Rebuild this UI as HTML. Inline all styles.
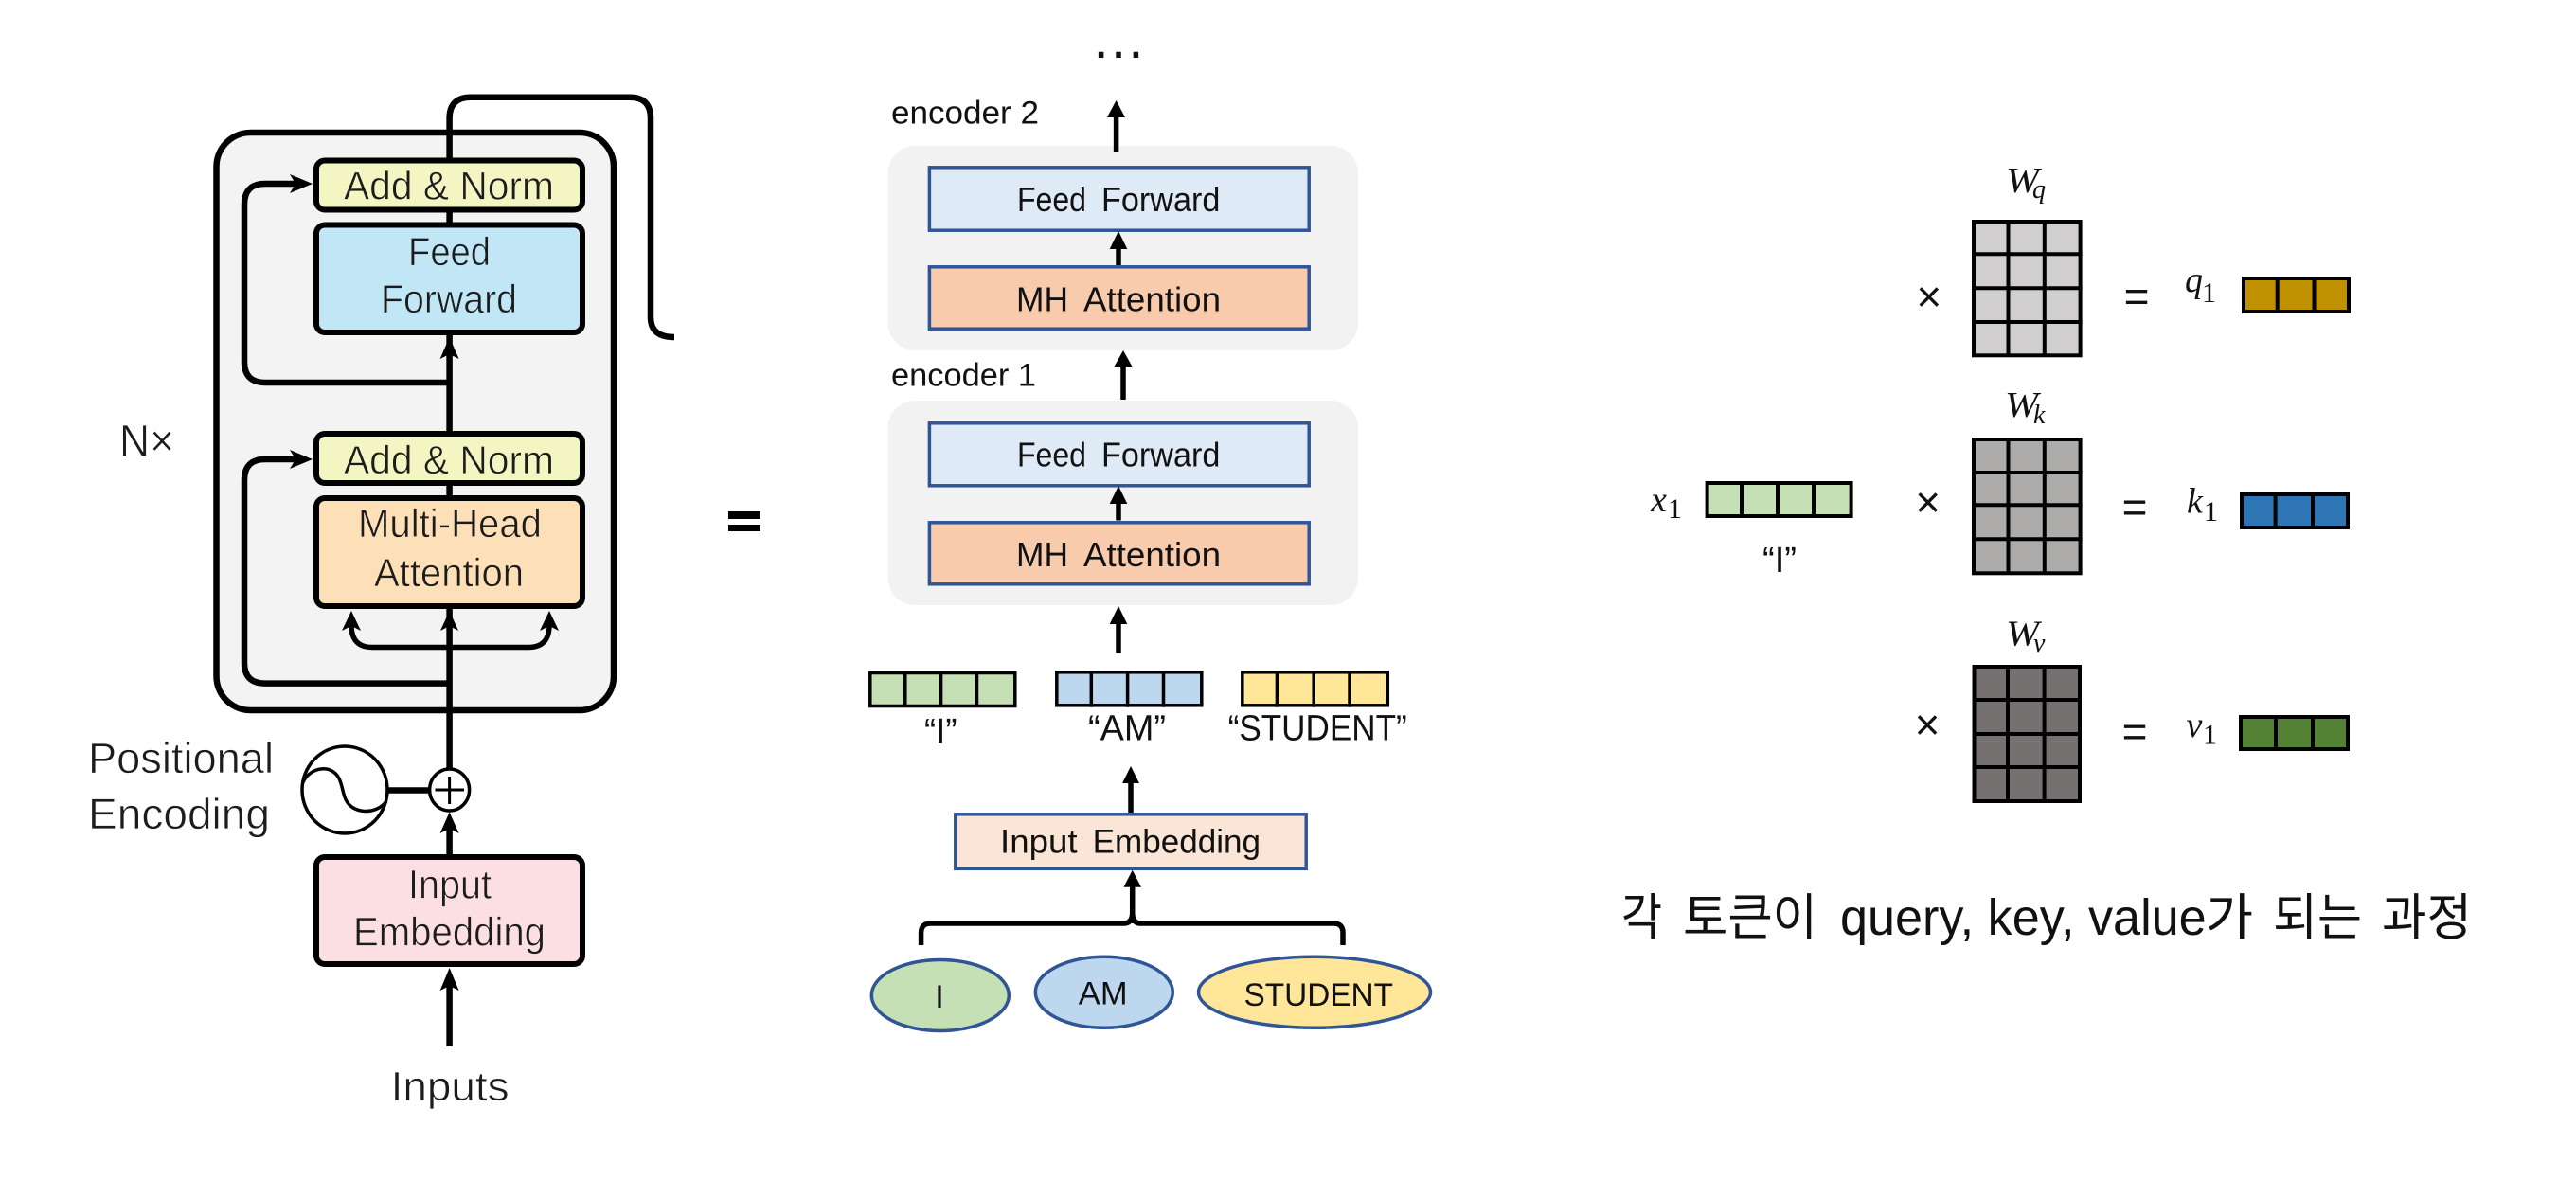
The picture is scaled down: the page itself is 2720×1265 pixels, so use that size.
<!DOCTYPE html>
<html><head><meta charset="utf-8"><style>
html,body{margin:0;padding:0;background:#fff}
svg{display:block}
text{font-family:"Liberation Sans","Noto Sans CJK KR",sans-serif;fill:#111}
.l{fill:#1c1c1c;stroke-width:.7}
.m{font-family:"Liberation Serif",serif;font-style:italic}
.u{font-style:normal}
.n{fill:none;stroke:#000;stroke-width:6.5}
.c{stroke:#000;stroke-width:3.5;fill:none}
.g{stroke:#000;stroke-width:4;fill:none}
.f{stroke:#2F5597;stroke-width:3.5}
</style></head><body>
<svg xmlns="http://www.w3.org/2000/svg" width="2720" height="1265" viewBox="0 0 2720 1265">
<rect width="2720" height="1265" fill="#fff"/>

<!-- LEFT -->
<rect x="228.5" y="140" width="419.5" height="610" rx="36" fill="#F3F3F3" stroke="#000" stroke-width="6.5"/>
<path class="n" d="M474.6 812V125Q474.6 102.7 497 102.7H665Q687 102.7 687 125V335Q687 356 712 356"/>
<path class="n" d="M474.6 404H280Q258 404 258 382V216Q258 194 280 194H312"/>
<path class="n" d="M474.6 721.6H280Q258 721.6 258 700V507Q258 485 280 485H312"/>
<path class="n" style="stroke-width:5.5" d="M371 660Q371 683.5 393 683.5H558Q580 683.5 580 660"/>
<polygon points="330,194 306,184 312,194 306,204"/>
<polygon points="330,485 306,475 312,485 306,495"/>
<rect x="334" y="169.5" width="281" height="52" rx="9" fill="#F3F5C3" stroke="#000" stroke-width="6"/>
<rect x="334" y="237.5" width="281" height="113.5" rx="9" fill="#C1E7F7" stroke="#000" stroke-width="6"/>
<rect x="334" y="458" width="281" height="52" rx="9" fill="#F3F5C3" stroke="#000" stroke-width="6"/>
<rect x="334" y="526" width="281" height="114" rx="9" fill="#FEE0B8" stroke="#000" stroke-width="6"/>
<rect x="334" y="905" width="281" height="113" rx="9" fill="#FCDFE2" stroke="#000" stroke-width="6"/>
<polygon points="474.6,356 464.6,379 474.6,374 484.6,379"/>
<polygon points="474.6,645 465,666 474.6,661 484,666"/>
<polygon points="371,645 361,666 371,661 381,666"/>
<polygon points="580,645 570,666 580,661 590,666"/>
<text class="l" stroke="#F3F5C3" x="363" y="210.6" font-size="42" textLength="222" lengthAdjust="spacingAndGlyphs">Add &amp; Norm</text>
<text class="l" stroke="#C1E7F7" x="431" y="280" font-size="42" textLength="87" lengthAdjust="spacingAndGlyphs">Feed</text>
<text class="l" stroke="#C1E7F7" x="402" y="330" font-size="42" textLength="144" lengthAdjust="spacingAndGlyphs">Forward</text>
<text class="l" stroke="#F3F5C3" x="363" y="500" font-size="42" textLength="222" lengthAdjust="spacingAndGlyphs">Add &amp; Norm</text>
<text class="l" stroke="#FEE0B8" x="378" y="567" font-size="42" textLength="194" lengthAdjust="spacingAndGlyphs">Multi-Head</text>
<text class="l" stroke="#FEE0B8" x="395" y="619" font-size="42" textLength="158" lengthAdjust="spacingAndGlyphs">Attention</text>
<text class="l" stroke="#fff" x="126" y="481.5" font-size="47" textLength="58" lengthAdjust="spacingAndGlyphs">N×</text>
<text class="l" stroke="#fff" x="93" y="816" font-size="45" textLength="196" lengthAdjust="spacingAndGlyphs">Positional</text>
<text class="l" stroke="#fff" x="93" y="875" font-size="45" textLength="192" lengthAdjust="spacingAndGlyphs">Encoding</text>
<text class="l" stroke="#FCDFE2" x="431" y="948.6" font-size="43" textLength="88" lengthAdjust="spacingAndGlyphs">Input</text>
<text class="l" stroke="#FCDFE2" x="373" y="998.6" font-size="43" textLength="203" lengthAdjust="spacingAndGlyphs">Embedding</text>
<text class="l" stroke="#fff" x="412.6" y="1162" font-size="44" textLength="125" lengthAdjust="spacingAndGlyphs">Inputs</text>
<ellipse cx="364" cy="834" rx="45" ry="46" fill="#fff" stroke="#000" stroke-width="3.5"/>
<path d="M320 826C327 810 350 806 358 822C362 830 362 840 366 846C374 860 398 860 408 846" fill="none" stroke="#000" stroke-width="3.5"/>
<line x1="410" y1="834.5" x2="453" y2="834.5" stroke="#000" stroke-width="6.5"/>
<ellipse cx="474.6" cy="834" rx="21" ry="22" fill="#fff" stroke="#000" stroke-width="3.5"/>
<path d="M459.5 834H490M474.6 820V849" stroke="#000" stroke-width="3" fill="none"/>
<path class="n" d="M474.6 902V875M474.6 1105V1040"/>
<polygon points="474.6,857.5 464.6,880 474.6,875 484.6,880"/>
<polygon points="474.6,1022 464.6,1046 474.6,1041 484.6,1046"/>

<!-- equals -->
<rect x="769" y="540" width="34" height="8"/>
<rect x="769" y="554" width="34" height="7"/>

<!-- MIDDLE -->
<text x="1181" y="61" font-size="58" text-anchor="middle">…</text>
<text x="941" y="130.7" font-size="34" textLength="156" lengthAdjust="spacingAndGlyphs">encoder 2</text>
<text x="941" y="407.6" font-size="34" textLength="153" lengthAdjust="spacingAndGlyphs">encoder 1</text>
<rect x="937.5" y="154" width="496.5" height="216" rx="29" fill="#F2F2F2"/>
<rect x="937.5" y="423" width="496.5" height="216" rx="29" fill="#F2F2F2"/>
<rect class="f" x="981.4" y="176.8" width="400.8" height="66.4" fill="#DEEBF7"/>
<rect class="f" x="981.4" y="281.8" width="400.8" height="65.4" fill="#F8CBAD"/>
<rect class="f" x="981.4" y="446.8" width="400.8" height="66" fill="#DEEBF7"/>
<rect class="f" x="981.4" y="551.8" width="400.8" height="65" fill="#F8CBAD"/>
<text y="223" font-size="36"><tspan x="1074" textLength="73" lengthAdjust="spacingAndGlyphs">Feed</tspan> <tspan x="1163" textLength="125.4" lengthAdjust="spacingAndGlyphs">Forward</tspan></text>
<text y="328.5" font-size="36"><tspan x="1073" textLength="55" lengthAdjust="spacingAndGlyphs">MH</tspan> <tspan x="1144" textLength="145" lengthAdjust="spacingAndGlyphs">Attention</tspan></text>
<text y="492.6" font-size="36"><tspan x="1074" textLength="73" lengthAdjust="spacingAndGlyphs">Feed</tspan> <tspan x="1163" textLength="125.4" lengthAdjust="spacingAndGlyphs">Forward</tspan></text>
<text y="598" font-size="36"><tspan x="1073" textLength="55" lengthAdjust="spacingAndGlyphs">MH</tspan> <tspan x="1144" textLength="145" lengthAdjust="spacingAndGlyphs">Attention</tspan></text>
<path d="M1178.6 160V120M1181 280V260M1186 422V385M1181 549.5V530M1181 690V658M1194 858V825M1195.7 975V935" stroke="#000" stroke-width="5.5" fill="none"/>
<polygon points="1178.6,106 1169,124 1188,124"/>
<polygon points="1181,244 1171.7,263 1190.3,263"/>
<polygon points="1186,370 1176.5,387 1195.5,387"/>
<polygon points="1181,513 1171.7,532 1190.3,532"/>
<polygon points="1181,640 1171.7,659 1190.3,659"/>
<polygon points="1194,809 1185,827 1203,827"/>
<polygon points="1195.7,918.7 1186.5,936.7 1205,936.7"/>
<path d="M972.6 998V985Q972.6 975 983 975H1187Q1195 975 1195.7 965Q1196.5 975 1204 975H1408Q1418 975 1418 985V998" fill="none" stroke="#000" stroke-width="5.5"/>
<rect class="c" x="918.8" y="710.5" width="153" height="35" style="fill:#C5E0B4"/>
<path class="c" d="M955.8 709V747M993.6 709V747M1031.5 709V747"/>
<rect class="c" x="1115.8" y="709.8" width="153" height="35" style="fill:#BDD7EE"/>
<path class="c" d="M1152.3 708V746.7M1190.6 708V746.7M1228.5 708V746.7"/>
<rect class="c" x="1311.8" y="709.8" width="153.5" height="35" style="fill:#FFE699"/>
<path class="c" d="M1348.4 708V746.7M1387.2 708V746.7M1425 708V746.7"/>
<text x="976" y="785" font-size="38" textLength="34.5" lengthAdjust="spacingAndGlyphs">“I”</text>
<text x="1149" y="781.7" font-size="38" textLength="82" lengthAdjust="spacingAndGlyphs">“AM”</text>
<text x="1296.7" y="781.7" font-size="38" textLength="189" lengthAdjust="spacingAndGlyphs">“STUDENT”</text>
<rect class="f" x="1008.8" y="859.8" width="370.4" height="57.5" fill="#FBE5D6"/>
<text y="900.7" font-size="35"><tspan x="1056" textLength="81.6" lengthAdjust="spacingAndGlyphs">Input</tspan> <tspan x="1153.6" textLength="177.4" lengthAdjust="spacingAndGlyphs">Embedding</tspan></text>
<ellipse cx="992.8" cy="1051" rx="72.5" ry="37.5" fill="#C5E0B4" class="f"/>
<ellipse cx="1165.8" cy="1047.8" rx="72.5" ry="37.5" fill="#BDD7EE" class="f"/>
<ellipse cx="1388" cy="1047.8" rx="122.5" ry="37.5" fill="#FFE699" class="f"/>
<text x="992" y="1064" font-size="34" text-anchor="middle">I</text>
<text x="1138.8" y="1060.7" font-size="34" textLength="51.8" lengthAdjust="spacingAndGlyphs">AM</text>
<text x="1313.5" y="1062" font-size="34" textLength="157.5" lengthAdjust="spacingAndGlyphs">STUDENT</text>

<!-- RIGHT -->
<rect class="g" x="2084" y="234" width="112.6" height="141.3" style="fill:#D0CECE"/>
<path class="g" d="M2120.5 232V377M2158.8 232V377M2082 268.3H2198.6M2082 304.3H2198.6M2082 340H2198.6"/>
<rect class="g" x="2084" y="464" width="112.6" height="141.3" style="fill:#AEABAB"/>
<path class="g" d="M2120.5 462V607M2158.8 462V607M2082 499H2198.6M2082 533.3H2198.6M2082 569.3H2198.6"/>
<rect class="g" x="2084.5" y="704" width="111.5" height="142" style="fill:#767171"/>
<path class="g" d="M2120 702V848M2158.6 702V848M2082.5 739H2198M2082.5 775H2198M2082.5 810H2198"/>
<rect class="g" x="2369" y="294" width="111" height="35" style="fill:#BF9000"/>
<path class="g" d="M2404.7 292V331M2443.5 292V331"/>
<rect class="g" x="2367" y="522" width="112" height="35" style="fill:#2E75B6"/>
<path class="g" d="M2402.6 520V559M2442 520V559"/>
<rect class="g" x="2366" y="757" width="113" height="34" style="fill:#548235"/>
<path class="g" d="M2403 755V793M2442 755V793"/>
<rect class="g" x="1802.6" y="510" width="152" height="35" style="fill:#C5E0B4"/>
<path class="g" d="M1839 508V547M1877 508V547M1915 508V547"/>

<text class="m" x="2118" y="203" font-size="38" textLength="35" lengthAdjust="spacingAndGlyphs">W</text><text class="m" x="2146" y="209" font-size="28">q</text>
<text class="m" x="2117" y="440" font-size="38" textLength="35" lengthAdjust="spacingAndGlyphs">W</text><text class="m" x="2147" y="447" font-size="28">k</text>
<text class="m" x="2118" y="681.7" font-size="38" textLength="35" lengthAdjust="spacingAndGlyphs">W</text><text class="m" x="2147" y="688" font-size="28">v</text>
<text class="m" x="2307" y="308" font-size="38">q</text><text class="m u" x="2325" y="319" font-size="30">1</text>
<text class="m" x="1743" y="540" font-size="38">x</text><text class="m u" x="1761" y="547" font-size="30">1</text>
<text class="m" x="2309" y="541.7" font-size="38">k</text><text class="m u" x="2327" y="550" font-size="30">1</text>
<text class="m" x="2308.5" y="778" font-size="38">v</text><text class="m u" x="2326" y="785.7" font-size="30">1</text>
<text x="2036.8" y="329" font-size="46" text-anchor="middle">×</text>
<text x="2035.7" y="546" font-size="46" text-anchor="middle">×</text>
<text x="2035" y="781" font-size="46" text-anchor="middle">×</text>
<text x="2256" y="329" font-size="46" text-anchor="middle">=</text>
<text x="2254" y="551.5" font-size="46" text-anchor="middle">=</text>
<text x="2254" y="788.5" font-size="46" text-anchor="middle">=</text>
<text x="1861" y="604" font-size="38" textLength="36" lengthAdjust="spacingAndGlyphs">“I”</text>

<text font-size="53" y="987"><tspan x="1712" textLength="43" lengthAdjust="spacingAndGlyphs">각</tspan> <tspan x="1777" textLength="142" lengthAdjust="spacingAndGlyphs">토큰이</tspan> <tspan x="1943" font-size="54" textLength="386.7" lengthAdjust="spacingAndGlyphs">query, key, value</tspan><tspan x="2329" textLength="50" lengthAdjust="spacingAndGlyphs">가</tspan> <tspan x="2400" textLength="94" lengthAdjust="spacingAndGlyphs">되는</tspan> <tspan x="2515" textLength="95" lengthAdjust="spacingAndGlyphs">과정</tspan></text>
</svg>
</body></html>
